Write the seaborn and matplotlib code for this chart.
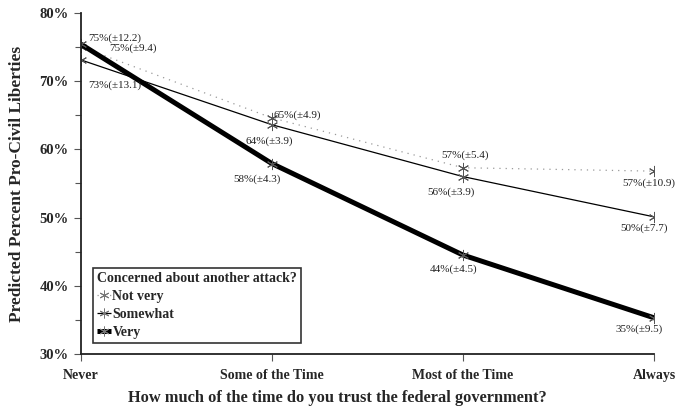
import matplotlib
matplotlib.use("Agg")
import matplotlib.pyplot as plt
from matplotlib.lines import Line2D
import pandas as pd
import seaborn as sns

# Trust in the federal government (x) and predicted support for civil liberties
categories = ["Never", "Some of the Time", "Most of the Time", "Always"]
not_very = [75.0, 64.6, 57.3, 56.8]
somewhat = [73.1, 63.6, 56.0, 50.1]
very = [75.4, 57.9, 44.5, 35.3]
ci_not_very = [12.2, 4.9, 5.4, 10.9]
ci_somewhat = [13.1, 3.9, 3.9, 7.7]
ci_very = [9.4, 4.3, 4.5, 9.5]
group_names = ["Not very", "Somewhat", "Very"]
y_ticks = [30, 40, 50, 60, 70, 80]

sns.set_style("ticks")
plt.rcParams["font.family"] = ["Liberation Serif", "DejaVu Serif"]

frames = []
for name, vals, cis in zip(group_names, [not_very, somewhat, very],
                           [ci_not_very, ci_somewhat, ci_very]):
    frames.append(pd.DataFrame({"pos": range(len(categories)), "value": vals,
                                "ci": cis, "group": name}))
df = pd.concat(frames, ignore_index=True)

fig = plt.figure(figsize=(6.75, 4.15), dpi=100)
ax = fig.add_axes([0.12, 0.147, 0.849, 0.822])

asterisk = (6, 2, 0)
styles = {
    "Not very": dict(color="#9a9a9a", linestyle=(0, (1, 4)), linewidth=0.9),
    "Somewhat": dict(color="black", linestyle="-", linewidth=0.9),
    "Very": dict(color="black", linestyle="-", linewidth=3.6),
}
for name in group_names:
    sub = df[df["group"] == name]
    sns.lineplot(data=sub, x="pos", y="value", ax=ax, marker=asterisk,
                 markersize=8, markeredgecolor="#555555", markeredgewidth=0.7,
                 legend=False, **styles[name])

# value labels: offset in points from each point
offsets = {
    ("Not very", 0): (5, 6), ("Very", 0): (20, -3), ("Somewhat", 0): (5, -18),
    ("Not very", 1): (1, 2), ("Somewhat", 1): (-19, -12), ("Very", 1): (-28, -11),
    ("Not very", 2): (-16, 9), ("Somewhat", 2): (-26, -11), ("Very", 2): (-24, -10),
    ("Not very", 3): (-23, -9), ("Somewhat", 3): (-24, -8), ("Very", 3): (-28, -8),
}
for _, row in df.iterrows():
    dx, dy = offsets[(row["group"], int(row["pos"]))]
    ax.annotate(f"{row['value']:.0f}%(\u00b1{row['ci']:.1f})",
                (row["pos"], row["value"]), xytext=(dx, dy),
                textcoords="offset points", ha="left", va="center",
                fontsize=8, color="#222222")

ax.set_xlim(0, 3)
ax.set_ylim(30, 80)
ax.set_xticks(range(len(categories)))
ax.set_xticklabels(categories, fontweight="bold", fontsize=10)
ax.set_yticks(y_ticks)
ax.set_yticks([35, 45, 55, 65, 75], minor=True)
ax.set_yticklabels([f"{t}%" for t in y_ticks], fontweight="bold", fontsize=10.5)
ax.tick_params(axis="both", direction="out", length=5, width=0.8, color="#555555")
ax.tick_params(axis="y", which="minor", length=4, width=0.8, color="#555555")
ax.tick_params(axis="x", pad=6)
ax.tick_params(axis="y", pad=4)
sns.despine(ax=ax)
for s in ["left", "bottom"]:
    ax.spines[s].set_linewidth(1.3)
    ax.spines[s].set_color("#222222")

ax.set_xlabel("How much of the time do you trust the federal government?",
              fontweight="bold", fontsize=11.8)
ax.xaxis.set_label_coords(0.4476, -0.105)
ax.set_ylabel("Predicted Percent Pro-Civil Liberties", fontweight="bold",
              fontsize=12.5)
ax.yaxis.set_label_coords(-0.098, 0.498)

handles = [Line2D([], [], marker=asterisk, markersize=7, markeredgecolor="#777777",
                  markeredgewidth=0.7, solid_capstyle="butt", **styles[n])
           for n in group_names]
leg = ax.legend(handles, group_names, title="Concerned about another attack?",
                loc="lower left", bbox_to_anchor=(0.021, 0.032), borderaxespad=0,
                frameon=True, fancybox=False, edgecolor="black", handlelength=1.0,
                handletextpad=0.1, borderpad=0.3, labelspacing=0.35,
                prop={"weight": "bold", "size": 10},
                title_fontproperties={"weight": "bold", "size": 10})
leg._legend_box.align = "left"
leg.get_frame().set_linewidth(1.2)

fig.savefig("out.png", dpi=100)
